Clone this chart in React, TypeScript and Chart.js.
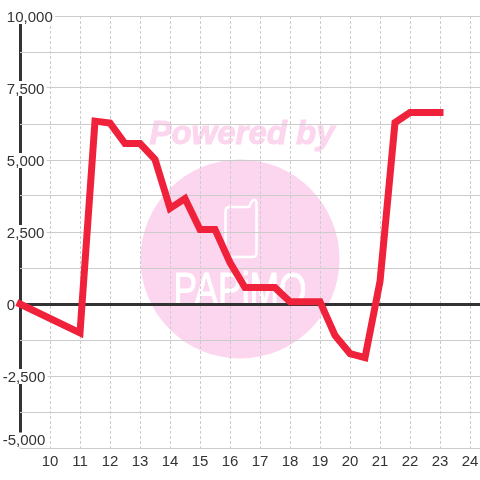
import React, { useEffect, useRef } from "react";
import { Chart, registerables } from "chart.js";

Chart.register(...registerables);

const hours = [9, 11, 11.5, 12, 12.5, 13, 13.5, 14, 14.5, 15, 15.5, 16, 16.5, 17, 17.5, 18, 18.5, 19, 19.5, 20, 20.5, 21, 21.5, 22, 22.5, 23];
const values = [0, -1000, 6350, 6280, 5570, 5570, 5020, 3320, 3660, 2590, 2590, 1440, 570, 570, 570, 80, 80, 80, -1090, -1720, -1860, 780, 6300, 6650, 6650, 6650];
const FONT = "'Liberation Sans', Arial, sans-serif";
const BOTTOM_LABEL_TICK = -4712;

const watermark = {
  id: "watermark",
  beforeDraw(chart: any) {
    const c = chart.ctx;
    c.save();
    c.fillStyle = "#fcd6ee";
    c.beginPath();
    c.arc(240, 259, 99.5, 0, Math.PI * 2);
    c.fill();
    c.font = "italic bold 33px " + FONT;
    c.textAlign = "center";
    c.textBaseline = "middle";
    c.lineWidth = 1;
    c.strokeStyle = "#fcd6ee";
    c.fillText("Powered by", 242, 135);
    c.strokeText("Powered by", 242, 135);
    c.strokeStyle = "#ffffff";
    c.lineWidth = 2.5;
    c.lineJoin = "round";
    c.beginPath();
    c.moveTo(230, 207);
    c.lineTo(249, 207);
    c.lineTo(252, 201);
    c.quadraticCurveTo(256, 198, 256.5, 203);
    c.lineTo(256.5, 253);
    c.quadraticCurveTo(256.5, 257, 252, 257);
    c.lineTo(230, 257);
    c.quadraticCurveTo(225.5, 257, 225.5, 253);
    c.lineTo(225.5, 211);
    c.quadraticCurveTo(225.5, 207, 230, 207);
    c.stroke();
    c.translate(240, 305);
    c.scale(0.77, 1);
    c.font = "46px " + FONT;
    c.textBaseline = "alphabetic";
    c.fillStyle = "#ffffff";
    c.lineWidth = 1;
    c.fillText("PAPiMO", 0, 0);
    c.strokeText("PAPiMO", 0, 0);
    c.restore();
  },
};

const isLabelled = (v: number) => v === BOTTOM_LABEL_TICK || (v % 2500 === 0 && v !== -5000);
const yLabel = (v: number) => {
  if (!isLabelled(v)) return "";
  if (v === BOTTOM_LABEL_TICK) return ["", "-5,000"];
  const text = Number(v).toLocaleString("en-US");
  return ["", v < 0 ? text : "\u00A0" + text];
};

export default function App() {
  const ref = useRef<HTMLCanvasElement>(null);
  useEffect(() => {
    const chart = new Chart(ref.current!, {
      type: "line",
      data: {
        datasets: [
          {
            data: hours.map((h, i) => ({ x: h, y: values[i] })),
            borderColor: "#f0223b",
            borderWidth: 7,
            pointRadius: 0,
            tension: 0,
            borderJoinStyle: "miter",
            borderCapStyle: "square",
            clip: false,
          },
        ],
      },
      options: {
        animation: false,
        responsive: false,
        plugins: { legend: { display: false }, tooltip: { enabled: false } },
        layout: { padding: { top: 16, right: 0, bottom: 0, left: 0 } },
        scales: {
          x: {
            type: "linear",
            min: 9,
            max: 24.3333,
            afterFit(s: any) {
              s.height = 32;
              s.paddingLeft = 0;
              s.paddingRight = 0;
            },
            afterBuildTicks(s: any) {
              s.ticks = [];
              for (let v = 9; v <= 24; v++) s.ticks.push({ value: v });
            },
            border: {
              display: false,
              dash: (ctx: any) => (ctx.tick && ctx.tick.value === 9 ? [] : [3, 2]),
            },
            grid: {
              drawTicks: false,
              color: (ctx: any) => (ctx.tick && ctx.tick.value === 9 ? "#333333" : "#cccccc"),
              lineWidth: (ctx: any) => (ctx.tick && ctx.tick.value === 9 ? 3 : 1),
            },
            ticks: {
              padding: 5,
              autoSkip: false,
              maxRotation: 0,
              color: "#333333",
              font: { family: FONT, size: 15 },
              callback: (v: any) => (v === 9 ? "" : String(v)),
            },
          },
          y: {
            min: -5000,
            max: 10000,
            afterFit(s: any) {
              s.width = 20;
            },
            afterBuildTicks(s: any) {
              s.ticks = [];
              for (let v = -5000; v <= 10000; v += 1250) s.ticks.push({ value: v });
              s.ticks.push({ value: BOTTOM_LABEL_TICK });
            },
            border: { display: false },
            grid: {
              drawTicks: false,
              color: (ctx: any) => {
                const v = ctx.tick && ctx.tick.value;
                if (v === BOTTOM_LABEL_TICK) return "rgba(0,0,0,0)";
                return v === 0 ? "#333333" : "#cccccc";
              },
              lineWidth: (ctx: any) => (ctx.tick && ctx.tick.value === 0 ? 3 : 1),
            },
            ticks: {
              mirror: true,
              padding: -17.3,
              autoSkip: false,
              color: "#333333",
              font: { family: FONT, size: 15, lineHeight: 0.2 },
              showLabelBackdrop: true,
              backdropPadding: { top: 2.5, bottom: 6.5, left: 0, right: 2 },
              backdropColor: (ctx: any) => (ctx.tick && isLabelled(ctx.tick.value) ? "#ffffff" : "rgba(0,0,0,0)"),
              callback: (v: any) => yLabel(Number(v)),
            },
          },
        },
      },
      plugins: [watermark],
    } as any);
    return () => chart.destroy();
  }, []);
  return (
    <canvas
      ref={ref}
      width={480}
      height={480}
      style={{ position: "fixed", left: 0, top: 0, width: 480, height: 480 }}
    />
  );
}
